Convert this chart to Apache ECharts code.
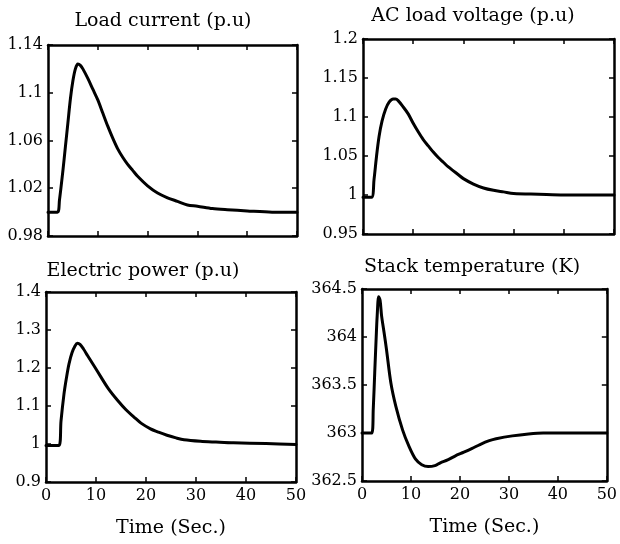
<!DOCTYPE html>
<html>
<head>
<meta charset="utf-8">
<script src="https://cdn.jsdelivr.net/npm/echarts@6/dist/echarts.min.js"></script>
<style>html,body{margin:0;padding:0;background:#fff}#c{width:620px;height:544px}</style>
</head>
<body>
<div id="c"></div>
<script>
var titles = ['Load current (p.u)', 'AC load voltage (p.u)', 'Electric power (p.u)', 'Stack temperature (K)'];
var xName = 'Time (Sec.)';
var xTicks = [0, 10, 20, 30, 40, 50];

var currentT = [0, 1.9, 2.3, 3, 3.5, 4, 4.5, 5, 5.5, 6, 6.5, 7, 8, 9, 10, 11, 12, 13, 14, 15, 16, 17, 18, 20, 22, 24, 26, 28, 30, 33, 36, 40, 45, 50];
var currentV = [1.0, 1.0, 1.01, 1.035, 1.055, 1.075, 1.095, 1.11, 1.12, 1.124, 1.123, 1.12, 1.112, 1.103, 1.094, 1.083, 1.072, 1.062, 1.053, 1.046, 1.04, 1.035, 1.03, 1.022, 1.016, 1.012, 1.009, 1.006, 1.005, 1.003, 1.002, 1.001, 1.0, 1.0];

var voltageT = [0, 1.7, 2.2, 2.7, 3.2, 3.8, 4.5, 5.2, 6, 6.5, 7, 8, 9, 10, 11, 12, 13, 14, 15, 16, 17, 18, 19, 20, 22, 24, 26, 28, 30, 35, 40, 50];
var voltageV = [0.997, 0.997, 1.02, 1.05, 1.075, 1.095, 1.11, 1.119, 1.123, 1.123, 1.121, 1.113, 1.104, 1.092, 1.081, 1.071, 1.063, 1.055, 1.048, 1.042, 1.036, 1.031, 1.026, 1.021, 1.014, 1.009, 1.006, 1.004, 1.002, 1.001, 1.0, 1.0];

var powerT = [0, 2.6, 3.0, 3.6, 4.1, 4.6, 5.2, 5.8, 6.3, 6.8, 7.5, 8.3, 9.5, 11, 12.5, 14.3, 16, 17.6, 19, 20.9, 22.5, 24.2, 26, 27.6, 30.9, 34, 37.5, 44, 50];
var powerV = [0.996, 0.996, 1.06, 1.132, 1.175, 1.211, 1.24, 1.258, 1.265, 1.262, 1.25, 1.233, 1.208, 1.176, 1.145, 1.115, 1.09, 1.071, 1.055, 1.04, 1.031, 1.023, 1.016, 1.011, 1.007, 1.005, 1.003, 1.001, 0.999];

var tempT = [0, 2.0, 2.3, 2.6, 2.9, 3.1, 3.4, 3.7, 4.0, 4.5, 5.0, 5.9, 6.9, 8.3, 9.6, 10.9, 12.2, 13.5, 14.9, 16, 17.5, 19, 20.8, 22.5, 24.1, 26, 27.4, 30.7, 34, 37, 40.6, 45, 50];
var tempV = [363.0, 363.0, 363.25, 363.63, 364.0, 364.22, 364.42, 364.38, 364.22, 364.05, 363.87, 363.52, 363.28, 363.03, 362.86, 362.73, 362.67, 362.65, 362.66, 362.69, 362.72, 362.76, 362.8, 362.84, 362.88, 362.92, 362.94, 362.97, 362.99, 363.0, 363.0, 363.0, 363.0];

var yMins = [0.98, 0.95, 0.9, 362.5];
var yMaxs = [1.14, 1.2, 1.4, 364.5];
var yIntervals = [0.04, 0.05, 0.1, 0.5];

var seriesT = [currentT, voltageT, powerT, tempT];
var seriesV = [currentV, voltageV, powerV, tempV];

var grids = [
  {left: 48, top: 45, width: 249, height: 191},
  {left: 363, top: 39, width: 251, height: 195},
  {left: 46, top: 292, width: 250, height: 190},
  {left: 362, top: 289, width: 252, height: 192}
];
var titlePos = [[163, 12], [473, 7], [143, 262], [472, 258]];

var FONT = 'DejaVu Serif';
var lineW = 2.5;

function fmt(v) { return String(+(+v).toFixed(2)); }

var option = {
  animation: false,
  backgroundColor: '#fff',
  title: titles.map(function (t, i) {
    return {text: t, left: titlePos[i][0], top: titlePos[i][1], textAlign: 'center', padding: 0,
      textStyle: {fontFamily: FONT, fontSize: 19, fontWeight: 'normal', color: '#000'}};
  }),
  grid: grids,
  xAxis: [],
  yAxis: [],
  series: []
};

for (var i = 0; i < 4; i++) {
  var bottomRow = i >= 2;
  var axLine = {show: true, onZero: false, lineStyle: {color: '#000', width: lineW}};
  var tick = {show: true, inside: true, length: 5, lineStyle: {color: '#000', width: 1.5}};
  option.xAxis.push({
    type: 'value', gridIndex: i, position: 'bottom', min: 0, max: 50, interval: 10,
    axisLine: axLine, axisTick: tick, splitLine: {show: false},
    axisLabel: {show: bottomRow, margin: 6, fontFamily: FONT, fontSize: 16, color: '#000'},
    name: bottomRow ? xName : '', nameLocation: 'middle', nameGap: 37,
    nameTextStyle: {fontFamily: FONT, fontSize: 19, color: '#000'}
  });
  option.xAxis.push({
    type: 'value', gridIndex: i, position: 'top', min: 0, max: 50, interval: 10,
    axisLine: axLine, axisTick: tick, splitLine: {show: false}, axisLabel: {show: false}
  });
  option.yAxis.push({
    type: 'value', gridIndex: i, position: 'left', min: yMins[i], max: yMaxs[i], interval: yIntervals[i],
    axisLine: axLine, axisTick: tick, splitLine: {show: false},
    axisLabel: {show: true, margin: 5, fontFamily: FONT, fontSize: 16, color: '#000', formatter: fmt}
  });
  option.yAxis.push({
    type: 'value', gridIndex: i, position: 'right', min: yMins[i], max: yMaxs[i], interval: yIntervals[i],
    axisLine: axLine, axisTick: tick, splitLine: {show: false}, axisLabel: {show: false}
  });
  var data = seriesT[i].map(function (t, k) { return [t, seriesV[i][k]]; });
  option.series.push({
    type: 'line', xAxisIndex: i * 2, yAxisIndex: i * 2, data: data,
    showSymbol: false, symbol: 'none', smooth: 0.3,
    lineStyle: {color: '#000', width: 3, join: 'round', cap: 'round'}
  });
}

var chart = echarts.init(document.getElementById('c'), null, {renderer: 'canvas'});
chart.setOption(option);
</script>
</body>
</html>
